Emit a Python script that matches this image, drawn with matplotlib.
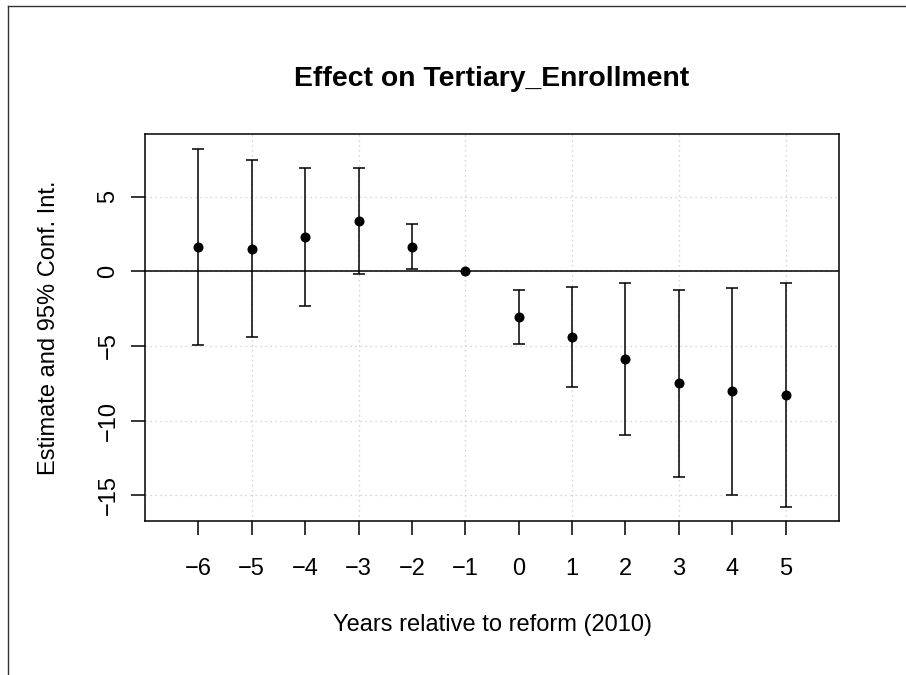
import numpy as np
import matplotlib
matplotlib.use("Agg")
import matplotlib.pyplot as plt
from matplotlib.lines import Line2D

plt.rcParams['font.family'] = ['Liberation Sans', 'DejaVu Sans']

# event-study coefficients
years = [-6, -5, -4, -3, -2, -1, 0, 1, 2, 3, 4, 5]
estimate = [1.63, 1.52, 2.32, 3.37, 1.65, 0.0, -3.08, -4.42, -5.90, -7.49, -8.04, -8.29]
ci_low = [-4.96, -4.40, -2.30, -0.18, 0.13, 0.0, -4.87, -7.75, -10.97, -13.74, -14.99, -15.80]
ci_high = [8.22, 7.44, 6.95, 6.92, 3.17, 0.0, -1.27, -1.03, -0.80, -1.23, -1.10, -0.78]
y_ticks = [-15, -10, -5, 0, 5]
grid_x = [-5, -3, -1, 1, 3, 5]

fig = plt.figure(figsize=(9.06, 6.75), dpi=100)
ax = fig.add_axes([145/906, 1 - 521/675, (839 - 145)/906, (521 - 134)/675])

# outer frame (only left and top edges are visible)
fig.add_artist(Line2D([8/906, 8/906], [0, 1 - 6/675], color='#333333', lw=1.0))
fig.add_artist(Line2D([8/906, 1], [1 - 6/675, 1 - 6/675], color='#333333', lw=1.0))

# dotted grid
for gx in grid_x:
    ax.axvline(gx, color='#c8c8c8', lw=0.9, ls=(0, (1, 3)), zorder=0)
for gy in y_ticks:
    ax.axhline(gy, color='#c8c8c8', lw=0.9, ls=(0, (1, 3)), zorder=0)

ax.axhline(0, color='black', lw=1.1, zorder=1)

yrs = np.array(years)
est = np.array(estimate)
lo = np.array(ci_low)
hi = np.array(ci_high)
has_ci = hi > lo
ax.errorbar(yrs[has_ci], est[has_ci], yerr=[est[has_ci] - lo[has_ci], hi[has_ci] - est[has_ci]],
            fmt='none', ecolor='black', elinewidth=1.1, capsize=4, capthick=1.1, zorder=2)
ax.plot(yrs, est, 'o', color='black', ms=6.2, zorder=3)

ax.set_xlim(-7, 6)
ax.set_ylim(-16.72, 9.2)
ax.set_xticks(years)
ax.set_yticks(y_ticks)
ax.tick_params(axis='both', length=10.3, width=1.1, labelsize=17, color='black')
ax.tick_params(axis='x', pad=16.5)
ax.tick_params(axis='y', pad=8)
for lab in ax.get_yticklabels():
    lab.set_rotation(90)
    lab.set_va('center')
for sp in ax.spines.values():
    sp.set_linewidth(1.1)

ax.set_xlabel('Years relative to reform (2010)', fontsize=17, labelpad=24)
ax.set_ylabel('Estimate and 95% Conf. Int.', fontsize=17, labelpad=27)
fig.text(492/906, 1 - 79/675, 'Effect on Tertiary_Enrollment', ha='center', va='center',
         fontsize=20.4, fontweight='bold')

fig.savefig('out.png', dpi=100)
